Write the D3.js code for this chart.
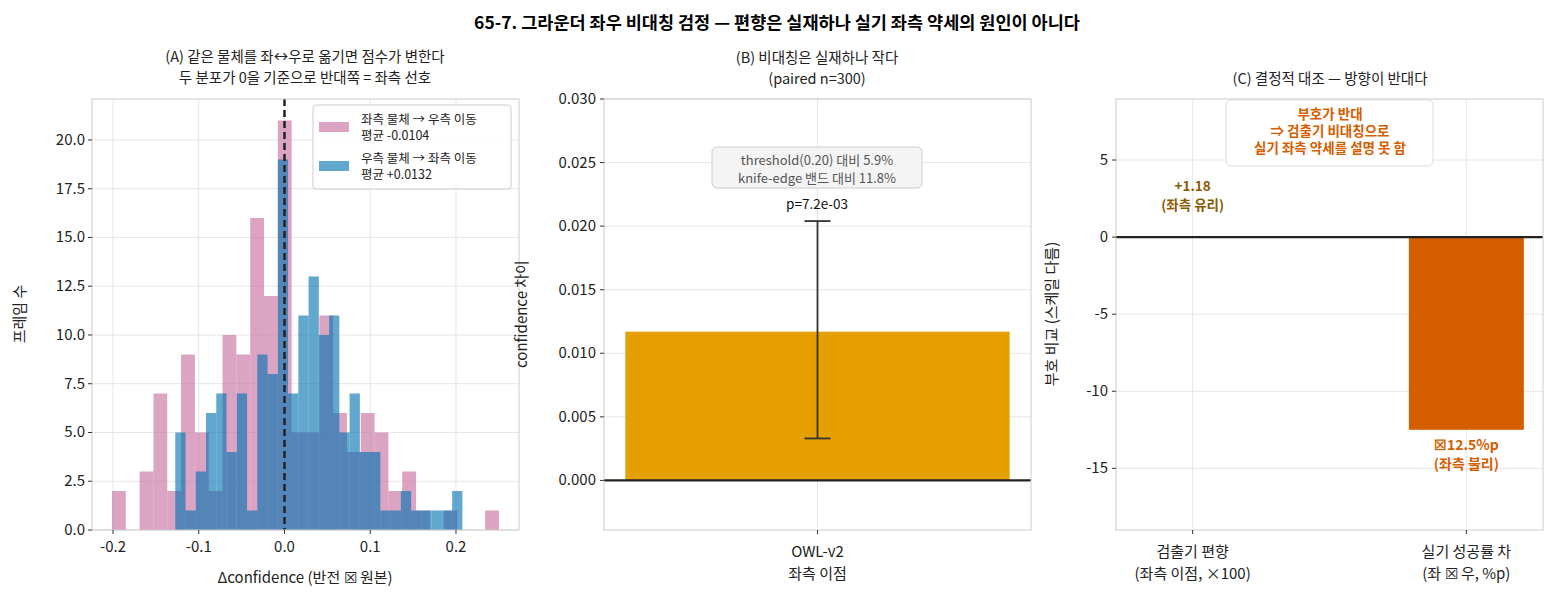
<!DOCTYPE html>
<html><head><meta charset="utf-8">
<script src="https://cdn.jsdelivr.net/npm/d3@7"></script>
<style>body{margin:0;background:#fff}text{font-family:"Noto Sans CJK KR","Noto Sans",sans-serif}</style>
</head><body><svg id="c" width="1555" height="600"></svg>
<script>
// ---- data ----
const pinkStart = -0.2012, pinkWidth = 0.01612;
const pinkCounts = [2,0,3,7,2,9,5,2,10,9,16,12,21,5,5,11,6,4,6,5,2,3,1,0,1,0,0,1];
const blueStart = -0.1274, blueWidth = 0.01196;
const blueCounts = [5,1,3,6,7,4,7,1,9,8,19,7,11,13,10,11,5,7,4,4,1,1,2,1,1,1,1,2];
const histXTicks = [-0.2,-0.1,0.0,0.1,0.2];
const histYTicks = [0,2.5,5,7.5,10,12.5,15,17.5,20];
const legendLabels = [["좌측 물체 → 우측 이동","평균 -0.0104"],["우측 물체 → 좌측 이동","평균 +0.0132"]];
const bCategory = ["OWL-v2","좌측 이점"];
const bValue = 0.0117, bErrLow = 0.0033, bErrHigh = 0.0204;
const bYTicks = [0,0.005,0.010,0.015,0.020,0.025,0.030];
const cCategories = [["검출기 편향","(좌측 이점, ×100)"],["실기 성공률 차","(좌 ☒ 우, %p)"]];
const cValues = [1.18, -12.5];
const cYTicks = [-15,-10,-5,0,5];

const svg = d3.select("#c");
const grid = "#e6e6e6", frame = "#cccccc";
svg.append("text").attr("x",777).attr("y",29).attr("text-anchor","middle").attr("font-size",17.5).attr("font-weight","bold").text("65-7. 그라운더 좌우 비대칭 검정 — 편향은 실재하나 실기 좌측 약세의 원인이 아니다");

function frameAxes(g,x0,x1,y0,y1){
  g.append("rect").attr("x",x0).attr("y",y0).attr("width",x1-x0).attr("height",y1-y0).attr("fill","none").attr("stroke",frame);
}
function txt(g,x,y,s,opt={}){
  return g.append("text").attr("x",x).attr("y",y).attr("text-anchor",opt.anchor||"middle").attr("font-size",opt.size||15)
   .attr("fill",opt.fill||"#222").attr("font-weight",opt.weight||"normal").text(s);
}

// ---- Panel A ----
{
  const L=92,R=519,T=99,B=530;
  const x=d3.scaleLinear().domain([-0.2245,0.2735]).range([L,R]);
  const y=d3.scaleLinear().domain([0,22.1]).range([B,T]);
  const g=svg.append("g");
  histXTicks.forEach(t=>g.append("line").attr("x1",x(t)).attr("x2",x(t)).attr("y1",T).attr("y2",B).attr("stroke",grid));
  histYTicks.forEach(t=>g.append("line").attr("x1",L).attr("x2",R).attr("y1",y(t)).attr("y2",y(t)).attr("stroke",grid));
  g.selectAll(".p").data(pinkCounts).join("rect").attr("x",(d,i)=>x(pinkStart+i*pinkWidth)).attr("width",x(pinkWidth)-x(0))
   .attr("y",d=>y(d)).attr("height",d=>B-y(d)).attr("fill","#CC79A7").attr("opacity",0.68);
  g.selectAll(".b").data(blueCounts).join("rect").attr("x",(d,i)=>x(blueStart+i*blueWidth)).attr("width",x(blueWidth)-x(0))
   .attr("y",d=>y(d)).attr("height",d=>B-y(d)).attr("fill","#0072B2").attr("opacity",0.62);
  g.append("line").attr("x1",x(0)).attr("x2",x(0)).attr("y1",T).attr("y2",B).attr("stroke","#222").attr("stroke-width",2.5).attr("stroke-dasharray","7,4");
  frameAxes(g,L,R,T,B);
  histXTicks.forEach(t=>{g.append("line").attr("x1",x(t)).attr("x2",x(t)).attr("y1",B).attr("y2",B+4).attr("stroke","#333");
    txt(g,x(t),B+22,t===0?"0.0":String(t));});
  histYTicks.forEach(t=>{g.append("line").attr("x1",L-4).attr("x2",L).attr("y1",y(t)).attr("y2",y(t)).attr("stroke","#333");
    txt(g,L-7,y(t)+5,t.toFixed(1),{anchor:"end"});});
  txt(g,305,583,"Δconfidence (반전 ☒ 원본)");
  txt(g,20,314,"프레임 수").attr("transform","rotate(-90,20,314)").attr("y",319);
  txt(g,305,62,"(A) 같은 물체를 좌↔우로 옮기면 점수가 변한다",{size:14.5});
  txt(g,305,83,"두 분포가 0을 기준으로 반대쪽 = 좌측 선호",{size:14.5});
  g.append("rect").attr("x",313).attr("y",105).attr("width",198).attr("height",84).attr("rx",3).attr("fill","white").attr("fill-opacity",0.85).attr("stroke","#ccc");
  const cols=["#CC79A7","#0072B2"];
  legendLabels.forEach((lb,i)=>{
    const yy=127+i*39;
    g.append("rect").attr("x",319).attr("y",yy-5).attr("width",30).attr("height",10).attr("fill",cols[i]).attr("opacity",i?0.62:0.68);
    txt(g,361,yy-3,lb[0],{anchor:"start",size:12.5});
    txt(g,361,yy+13,lb[1],{anchor:"start",size:12.5});
  });
}

// ---- Panel B ----
{
  const L=604,R=1031,T=99,B=530;
  const x=d3.scaleLinear().domain([-0.55,0.55]).range([L,R]);
  const y=d3.scaleLinear().domain([-0.0039,0.030]).range([B,T]);
  const g=svg.append("g");
  g.append("line").attr("x1",x(0)).attr("x2",x(0)).attr("y1",T).attr("y2",B).attr("stroke",grid);
  bYTicks.forEach(t=>g.append("line").attr("x1",L).attr("x2",R).attr("y1",y(t)).attr("y2",y(t)).attr("stroke",grid));
  g.append("rect").attr("x",x(-0.495)).attr("width",x(0.495)-x(-0.495)).attr("y",y(bValue)).attr("height",y(0)-y(bValue)).attr("fill","#E69F00");
  g.append("line").attr("x1",L).attr("x2",R).attr("y1",y(0)).attr("y2",y(0)).attr("stroke","#222").attr("stroke-width",2.2);
  g.append("line").attr("x1",x(0)).attr("x2",x(0)).attr("y1",y(bErrLow)).attr("y2",y(bErrHigh)).attr("stroke","#333").attr("stroke-width",1.8);
  [bErrLow,bErrHigh].forEach(v=>g.append("line").attr("x1",x(0)-13).attr("x2",x(0)+13).attr("y1",y(v)).attr("y2",y(v)).attr("stroke","#333").attr("stroke-width",1.8));
  frameAxes(g,L,R,T,B);
  bYTicks.forEach(t=>{g.append("line").attr("x1",L-4).attr("x2",L).attr("y1",y(t)).attr("y2",y(t)).attr("stroke","#333");
    txt(g,L-8,y(t)+5,t.toFixed(3),{anchor:"end"});});
  g.append("line").attr("x1",x(0)).attr("x2",x(0)).attr("y1",B).attr("y2",B+4).attr("stroke","#333");
  txt(g,x(0),557,bCategory[0]); txt(g,x(0),579,bCategory[1]);
  txt(g,522,314,"confidence 차이").attr("transform","rotate(-90,522,314)").attr("y",319);
  txt(g,817,63,"(B) 비대칭은 실재하나 작다",{size:14.5});
  txt(g,817,84,"(paired n=300)",{size:14.5});
  g.append("rect").attr("x",712).attr("y",147).attr("width",210).attr("height",41).attr("rx",5).attr("fill","#f4f4f4").attr("stroke","#ccc");
  txt(g,817,165,"threshold(0.20) 대비 5.9%",{size:13,fill:"#555"});
  txt(g,817,183,"knife-edge 밴드 대비 11.8%",{size:13,fill:"#555"});
  txt(g,817,209,"p=7.2e-03",{size:13.5,fill:"#111"});
}

// ---- Panel C ----
{
  const L=1116,R=1543,T=99,B=530;
  const x=d3.scaleLinear().domain([-0.28,1.28]).range([L,R]);
  const y=d3.scaleLinear().domain([-19.0,8.96]).range([B,T]);
  const g=svg.append("g");
  [0,1].forEach(t=>g.append("line").attr("x1",x(t)).attr("x2",x(t)).attr("y1",T).attr("y2",B).attr("stroke",grid));
  cYTicks.forEach(t=>g.append("line").attr("x1",L).attr("x2",R).attr("y1",y(t)).attr("y2",y(t)).attr("stroke",grid));
  // only the negative bar is visible in the reference
  g.append("rect").attr("x",x(1-0.21)).attr("width",x(0.42)-x(0)).attr("y",y(0)).attr("height",y(cValues[1])-y(0)).attr("fill","#D55E00");
  g.append("line").attr("x1",L).attr("x2",R).attr("y1",y(0)).attr("y2",y(0)).attr("stroke","#222").attr("stroke-width",2.2);
  frameAxes(g,L,R,T,B);
  cYTicks.forEach(t=>{g.append("line").attr("x1",L-4).attr("x2",L).attr("y1",y(t)).attr("y2",y(t)).attr("stroke","#333");
    txt(g,L-8,y(t)+5,String(t),{anchor:"end"});});
  cCategories.forEach((c,i)=>{g.append("line").attr("x1",x(i)).attr("x2",x(i)).attr("y1",B).attr("y2",B+4).attr("stroke","#333");
    txt(g,x(i),557,c[0]); txt(g,x(i),579,c[1]);});
  txt(g,1052,314,"부호 비교 (스케일 다름)").attr("transform","rotate(-90,1052,314)").attr("y",319);
  txt(g,1330,84,"(C) 결정적 대조 — 방향이 반대다",{size:14.5});
  g.append("rect").attr("x",1226).attr("y",100).attr("width",207).attr("height",66).attr("rx",5).attr("fill","white").attr("stroke","#ddd");
  ["부호가 반대","⇒ 검출기 비대칭으로","실기 좌측 약세를 설명 못 함"].forEach((s,i)=>txt(g,1330,119+i*17,s,{size:13.5,fill:"#D55E00",weight:"bold"}));
  txt(g,x(0),191,"+"+cValues[0].toFixed(2),{size:13.5,fill:"#8B5A00",weight:"bold"});
  txt(g,x(0),210,"(좌측 유리)",{size:13.5,fill:"#8B5A00",weight:"bold"});
  txt(g,x(1),y(cValues[1])+20,"☒"+Math.abs(cValues[1])+"%p",{size:14,fill:"#D55E00",weight:"bold"});
  txt(g,x(1),y(cValues[1])+39,"(좌측 불리)",{size:14,fill:"#D55E00",weight:"bold"});
}
</script></body></html>
